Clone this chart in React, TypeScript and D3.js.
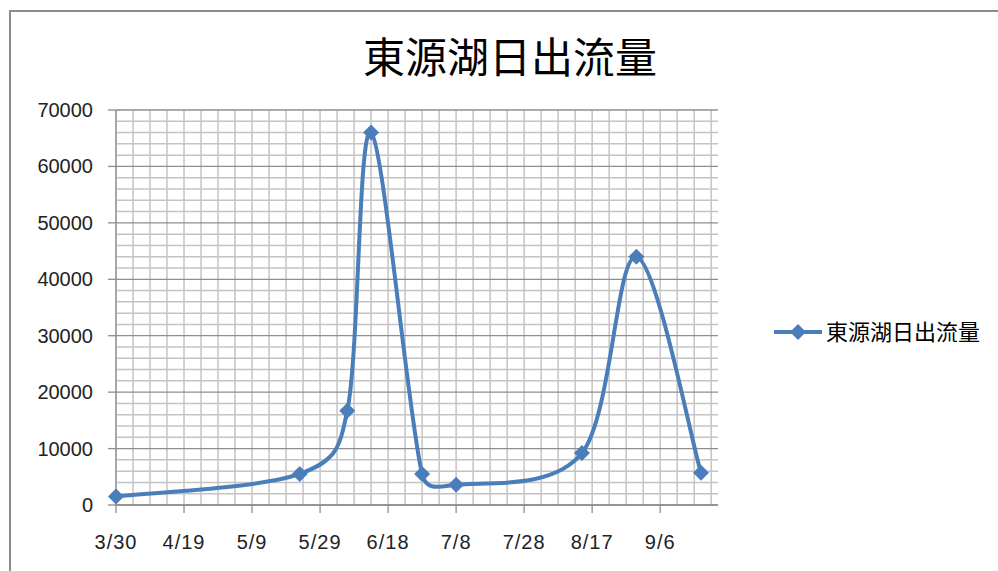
import React from 'react';
import * as d3 from 'd3';

const TITLE = '東源湖日出流量';
const SERIES_NAME = '東源湖日出流量';

// observation dates (month/day) and daily outflow
const DATES = ['3/30', '5/23', '6/6', '6/13', '6/28', '7/8', '8/14', '8/30', '9/18'];
const FLOWS = [1500, 5500, 16700, 66000, 5500, 3600, 9200, 44000, 5700];

const X_TICKS = ['3/30', '4/19', '5/9', '5/29', '6/18', '7/8', '7/28', '8/17', '9/6'];
const X_END = '9/23';
const Y_TICKS = [0, 10000, 20000, 30000, 40000, 50000, 60000, 70000];

const W = 998;
const H = 571;
const BLUE = '#4a7ebb';

const toDate = (s: string) => {
  const [m, d] = s.split('/').map(Number);
  return new Date(Date.UTC(2010, m - 1, d));
};

const diamond = (x: number, y: number, r: number) =>
  `M${x},${y - r}L${x + r},${y}L${x},${y + r}L${x - r},${y}Z`;

// spreadsheet-style smoothed line: tangent = neighbour chord / 6,
// capped at half the segment length so short segments don't overshoot
function smoothPath(pts: [number, number][]) {
  const p = d3.path();
  const n = pts.length;
  const at = (i: number) => pts[Math.max(0, Math.min(n - 1, i))];
  const dist = (a: [number, number], b: [number, number]) => Math.hypot(b[0] - a[0], b[1] - a[1]);
  p.moveTo(pts[0][0], pts[0][1]);
  for (let i = 0; i < n - 1; i++) {
    const p0 = at(i - 1), p1 = at(i), p2 = at(i + 1), p3 = at(i + 2);
    const seg = dist(p1, p2);
    let v1: [number, number] = [(p2[0] - p0[0]) / 6, (p2[1] - p0[1]) / 6];
    let v2: [number, number] = [(p3[0] - p1[0]) / 6, (p3[1] - p1[1]) / 6];
    const l1 = Math.hypot(v1[0], v1[1]);
    const l2 = Math.hypot(v2[0], v2[1]);
    if (l1 > seg / 2) v1 = [v1[0] * seg / 2 / l1, v1[1] * seg / 2 / l1];
    if (l2 > seg / 2) v2 = [v2[0] * seg / 2 / l2, v2[1] * seg / 2 / l2];
    p.bezierCurveTo(p1[0] + v1[0], p1[1] + v1[1], p2[0] - v2[0], p2[1] - v2[1], p2[0], p2[1]);
  }
  return p.toString();
}

export default function App() {
  const plot = { left: 116, right: 718, top: 110, bottom: 505 };

  const x = d3.scaleUtc()
    .domain([toDate(DATES[0]), toDate(X_END)])
    .range([plot.left, plot.right]);
  const y = d3.scaleLinear()
    .domain([0, 70000])
    .range([plot.bottom, plot.top]);

  const minorX = d3.utcDay.every(1)!
    .range(toDate(DATES[0]), toDate(X_END))
    .filter((_, i) => i % 5 === 0);
  const minorY = d3.range(0, 70001, 2000);

  const pts: [number, number][] = DATES.map((d, i) => [x(toDate(d)), y(FLOWS[i])]);
  const line = smoothPath(pts);

  const axisFont = "'Liberation Sans', Arial, sans-serif";
  const cjkFont = "'Noto Sans CJK TC', 'Noto Sans CJK SC', sans-serif";

  return (
    <svg width={W} height={H} style={{ position: 'absolute', left: 0, top: 0, background: '#fff' }}>
      <rect x={10} y={11} width={W + 10} height={H + 10} fill="#fff" stroke="#8c8c8c" strokeWidth={2} />

      <text x={510} y={73} textAnchor="middle" fontFamily={cjkFont} fontSize={42} fill="#000">
        {TITLE}
      </text>

      {/* grid */}
      <g>
        {minorX.map((d, i) => (
          <line key={'vx' + i} x1={x(d)} x2={x(d)} y1={plot.top} y2={plot.bottom}
            stroke="#c4c4c4" strokeWidth={1.5} />
        ))}
        {minorY.map((v) => (
          <line key={'hy' + v} x1={plot.left} x2={plot.right} y1={y(v)} y2={y(v)}
            stroke={v % 10000 === 0 ? '#8e8e8e' : '#c4c4c4'} strokeWidth={v % 10000 === 0 ? 1.3 : 1.5} />
        ))}
      </g>

      {/* axes */}
      <line x1={plot.left} x2={plot.left} y1={plot.top} y2={plot.bottom} stroke="#8e8e8e" strokeWidth={1.3} />
      <line x1={plot.left} x2={plot.right} y1={plot.bottom} y2={plot.bottom} stroke="#8e8e8e" strokeWidth={1.3} />

      {Y_TICKS.map((v) => (
        <g key={'yt' + v}>
          <line x1={plot.left - 8} x2={plot.left} y1={y(v)} y2={y(v)} stroke="#8e8e8e" strokeWidth={1.3} />
          <text x={93} y={y(v) + 7} textAnchor="end" fontFamily={axisFont} fontSize={20} fill="#222">
            {v}
          </text>
        </g>
      ))}

      {X_TICKS.map((t) => {
        const px = x(toDate(t));
        return (
          <g key={'xt' + t}>
            <line x1={px} x2={px} y1={plot.bottom} y2={plot.bottom + 8} stroke="#8e8e8e" strokeWidth={1.3} />
            <text x={px} y={549} textAnchor="middle" fontFamily={axisFont} fontSize={20}
              letterSpacing={1} fill="#222">
              {t}
            </text>
          </g>
        );
      })}

      {/* series */}
      <path d={line} fill="none" stroke={BLUE} strokeWidth={4} strokeLinejoin="round" />
      {pts.map(([px, py], i) => (
        <path key={'m' + i} d={diamond(px, py, 8)} fill={BLUE} />
      ))}

      {/* legend */}
      <line x1={774} x2={822} y1={332} y2={332} stroke={BLUE} strokeWidth={4} />
      <path d={diamond(798, 332, 8)} fill={BLUE} />
      <text x={826} y={340} fontFamily={cjkFont} fontSize={22} fill="#000">
        {SERIES_NAME}
      </text>
    </svg>
  );
}
